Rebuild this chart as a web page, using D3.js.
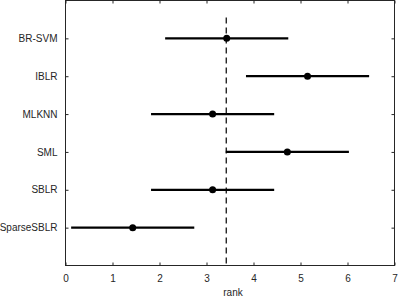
<!DOCTYPE html>
<html>
<head>
<meta charset="utf-8">
<script src="https://cdn.jsdelivr.net/npm/d3@7"></script>
<style>
  body { margin: 0; background: #fff; }
  text { font-family: "Liberation Sans", Arial, sans-serif; }
</style>
</head>
<body>
<svg id="chart" width="399" height="298"></svg>
<script>
// mean rank and critical-difference interval per method
var methods = ["BR-SVM", "IBLR", "MLKNN", "SML", "SBLR", "SparseSBLR"];
var meanRank = [3.43, 5.15, 3.13, 4.72, 3.13, 1.43];
var lowRank = [2.12, 3.84, 1.82, 3.41, 1.82, 0.12];
var highRank = [4.74, 6.46, 4.44, 6.03, 4.44, 2.74];
var refRank = 3.42;
var xTicks = [0, 1, 2, 3, 4, 5, 6, 7];

var svg = d3.select("#chart"),
    margin = {top: 0.5, right: 4.5, bottom: 32.5, left: 65.5},
    width = +svg.attr("width") - margin.left - margin.right,
    height = +svg.attr("height") - margin.top - margin.bottom;

var axisColor = "#262626";

var x = d3.scaleLinear().domain([0, 7]).range([0, width]);
var y = d3.scaleLinear().domain([0, methods.length + 1]).range([0, height]);

var g = svg.append("g")
    .attr("transform", "translate(" + margin.left + "," + margin.top + ")");

var rows = methods.map(function (m, i) {
    return {name: m, mean: meanRank[i], lo: lowRank[i], hi: highRank[i], pos: i + 1};
});

// box
g.append("rect")
    .attr("x", 0).attr("y", 0)
    .attr("width", width).attr("height", height)
    .attr("fill", "none")
    .attr("stroke", axisColor)
    .attr("stroke-width", 1);

// bottom / top ticks
var xAxis = d3.axisBottom(x).tickValues(xTicks).tickFormat(d3.format("d"))
    .tickSizeInner(-3).tickSizeOuter(0).tickPadding(9);
var xg = g.append("g")
    .attr("transform", "translate(0," + height + ")")
    .call(xAxis);
xg.select(".domain").remove();
xg.selectAll("line").attr("stroke", axisColor);
xg.selectAll("text").attr("fill", axisColor).style("font-size", "10px");

var xTop = g.append("g").call(d3.axisTop(x).tickValues(xTicks).tickSizeInner(-3).tickSizeOuter(0).tickFormat(""));
xTop.select(".domain").remove();
xTop.selectAll("line").attr("stroke", axisColor);

// left / right ticks
var yAxis = d3.axisLeft(y)
    .tickValues(rows.map(function (d) { return d.pos; }))
    .tickFormat(function (v) { return methods[v - 1]; })
    .tickSizeInner(-3).tickSizeOuter(0).tickPadding(8);
var yg = g.append("g").call(yAxis);
yg.select(".domain").remove();
yg.selectAll("line").attr("stroke", axisColor);
yg.selectAll("text").attr("fill", axisColor).style("font-size", "10px");

var yRight = g.append("g")
    .attr("transform", "translate(" + width + ",0)")
    .call(d3.axisRight(y).tickValues(rows.map(function (d) { return d.pos; })).tickSizeInner(-3).tickSizeOuter(0).tickFormat(""));
yRight.select(".domain").remove();
yRight.selectAll("line").attr("stroke", axisColor);

// dashed reference line
g.append("line")
    .attr("x1", x(refRank)).attr("x2", x(refRank))
    .attr("y1", y(0.45)).attr("y2", height)
    .attr("stroke", "#000")
    .attr("stroke-width", 1.2)
    .attr("stroke-dasharray", "6,4");

// intervals
g.selectAll(".ci")
    .data(rows)
    .enter().append("line")
    .attr("class", "ci")
    .attr("x1", function (d) { return x(d.lo); })
    .attr("x2", function (d) { return x(d.hi); })
    .attr("y1", function (d) { return y(d.pos); })
    .attr("y2", function (d) { return y(d.pos); })
    .attr("stroke", "#000")
    .attr("stroke-width", 2.2);

g.selectAll(".pt")
    .data(rows)
    .enter().append("circle")
    .attr("class", "pt")
    .attr("cx", function (d) { return x(d.mean); })
    .attr("cy", function (d) { return y(d.pos); })
    .attr("r", 3.5)
    .attr("fill", "#000");

// x label
svg.append("text")
    .attr("x", margin.left + width / 2 + 3)
    .attr("y", 296)
    .attr("text-anchor", "middle")
    .attr("fill", axisColor)
    .style("font-size", "10px")
    .text("rank");
</script>
</body>
</html>
